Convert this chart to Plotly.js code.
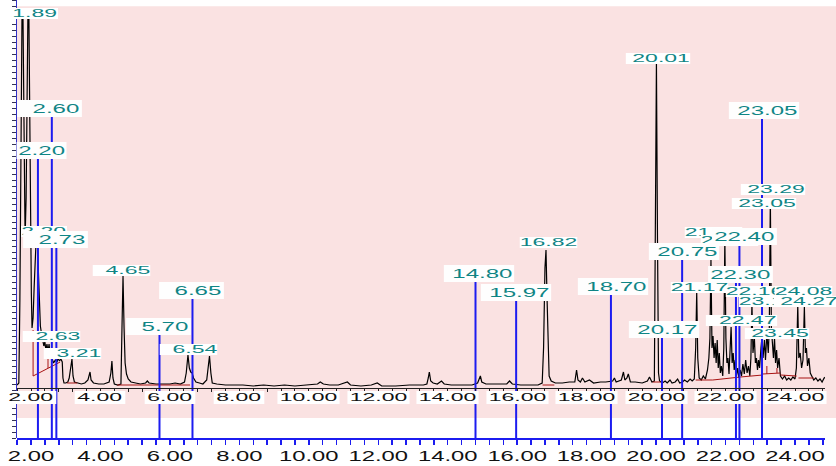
<!DOCTYPE html>
<html><head><meta charset="utf-8">
<script src="https://cdn.plot.ly/plotly-3.0.1.min.js"></script>
<style>
html,body{margin:0;padding:0;background:#fff;}
#chart{width:836px;height:466px;}
.annotation text.annotation-text[style*="font-size: 10px"]{transform-box:fill-box;transform-origin:center;transform:scaleX(2.3);}
.annotation text.annotation-text[style*="font-size: 13px"]{transform-box:fill-box;transform-origin:center;transform:scaleX(1.85);}
.annotation rect.bg[style*="rgb(255, 255, 255)"]{transform-box:fill-box;transform-origin:center;transform:scaleX(2.3);}
.annotation rect.bg[style*="rgb(254, 254, 254)"]{transform-box:fill-box;transform-origin:center;transform:scaleX(1.85);}
g.x2tick{transform-box:fill-box;transform-origin:center;transform:scaleX(1.7);}
</style>
</head><body>
<div id="chart"></div>
<script>
// Chromatogram: retention time (min) and detector signal (arbitrary units)
var timeMin = [1.60,1.65,1.68,1.71,1.74,1.77,1.80,1.83,1.86,1.89,1.91,1.94,1.97,1.99,2.01,2.03,2.06,2.09,2.12,2.15,2.18,2.21,2.24,2.27,2.30,2.33,2.37,2.40,2.43,2.46,2.49,2.52,2.55,2.60,2.65,2.70,2.75,2.78,2.82,2.86,2.90,2.92,2.95,3.00,3.06,3.10,3.13,3.18,3.21,3.25,3.35,3.45,3.55,3.64,3.70,3.73,3.80,3.95,4.10,4.25,4.30,4.33,4.36,4.40,4.50,4.59,4.62,4.65,4.68,4.71,4.75,4.80,4.88,5.00,5.15,5.30,5.35,5.40,5.60,5.80,6.00,6.15,6.30,6.42,6.47,6.52,6.56,6.60,6.64,6.68,6.75,6.85,6.95,7.06,7.10,7.14,7.18,7.22,7.35,7.60,7.80,8.10,8.40,8.70,9.00,9.30,9.60,10.00,10.25,10.33,10.42,10.60,10.85,11.11,11.20,11.50,11.80,11.97,12.10,12.50,12.90,13.30,13.40,13.44,13.47,13.51,13.58,13.70,13.82,13.90,14.10,14.40,14.70,14.86,14.90,14.94,14.98,15.10,15.40,15.70,15.78,15.86,16.10,16.40,16.60,16.72,16.76,16.80,16.83,16.86,16.89,16.92,16.98,17.10,17.30,17.50,17.66,17.71,17.75,17.82,17.88,17.95,18.08,18.20,18.40,18.55,18.75,18.80,18.85,19.00,19.06,19.10,19.16,19.20,19.26,19.40,19.60,19.75,19.81,19.88,19.95,19.98,20.01,20.04,20.07,20.10,20.18,20.26,20.32,20.40,20.46,20.55,20.62,20.68,20.76,20.82,20.90,20.98,21.04,21.10,21.14,21.17,21.20,21.24,21.30,21.36,21.42,21.48,21.52,21.55,21.58,21.61,21.64,21.67,21.70,21.73,21.76,21.79,21.82,21.85,21.88,21.92,21.95,21.98,22.01,22.04,22.07,22.10,22.13,22.16,22.19,22.22,22.25,22.28,22.31,22.35,22.38,22.42,22.46,22.50,22.54,22.58,22.62,22.66,22.70,22.73,22.76,22.79,22.83,22.86,22.89,22.92,22.95,22.98,23.02,23.05,23.08,23.12,23.15,23.19,23.23,23.26,23.29,23.32,23.35,23.38,23.41,23.44,23.47,23.50,23.54,23.58,23.64,23.70,23.76,23.82,23.88,23.94,24.00,24.04,24.08,24.11,24.15,24.19,24.23,24.27,24.30,24.33,24.36,24.40,24.44,24.48,24.54,24.60,24.66,24.72,24.78,24.84,24.88];
var signal = [3,5,88,290,370,370,230,150,190,330,370,370,200,100,95,60,70,100,135,150,148,120,85,62,55,50,42,46,38,44,36,44,34,30,25,28,26,30,27,29,26,10,5,5,6,10,18,29,12,6,5,4,5,8,16,8,5,4,4,6,15,27,10,4,3,4,60,112,60,25,14,9,6,5,4,5,7,5,4,4,4,5,4,6,15,33,20,16,15,10,6,5,4,8,22,32,15,5,4,3,3,3,2,3,2,3,2,3,4,6,4,3,3,6,3,2,3,5,2,2,3,3,4,10,16,7,5,4,7,4,3,3,3,5,9,12,6,4,4,4,7,4,3,3,3,5,40,120,138,90,30,12,7,5,5,6,6,18,8,6,10,6,8,5,6,6,7,10,6,8,16,8,10,14,6,6,5,7,11,6,7,150,326,150,15,7,5,7,5,8,5,6,9,5,6,8,6,9,7,9,40,96,30,10,8,12,9,18,30,50,128,40,52,30,45,25,48,20,35,15,22,12,40,150,50,25,30,14,40,61,25,35,18,28,12,20,10,18,12,24,14,28,15,22,12,30,85,35,51,25,30,18,28,20,40,51,30,48,28,55,35,60,190,60,45,30,50,25,38,20,30,12,9,12,8,10,8,11,9,20,83,30,35,20,28,81,35,40,22,30,15,12,8,10,7,9,6,10,11];

// Integration baselines (start time, start level, end time, end level)
var baseT0 = [2.06,2.06,2.49,3.04,4.48,16.73,19.90,21.14,21.63,22.43,23.07,23.19,23.48,23.58,24.10];
var baseI0 = [58,12,20,5,3,3,6,8,8,11,14,14,15,13,10];
var baseT1 = [2.06,2.84,2.49,3.33,6.58,17.07,20.13,21.63,22.43,23.07,23.58,23.19,23.48,24.05,24.54];
var baseI1 = [12,26,33,5,3,3,6,8,11,13,15,22,20,12,10];

// Marked retention times (blue markers) and the level where each marker starts
var markTimes = [2.20,2.60,2.73,5.70,6.65,14.80,15.97,18.70,20.17,20.75,22.30,22.40,23.05];
var markTops  = [238,280,149,61.5,97.5,115,95.5,102,59,136.5,114,152,278];

// Peak labels: text, placement (time, level), kind (s = peak, b = marker), leading pad
var labelText = ["2.20","21.60","22.00","21.17","22.16","23.12","1.89","4.65","6.54","3.21","2.63","16.82","20.01","23.29","23.05","22.47","23.45","24.08","24.27","2.60","2.20","2.73","5.70","6.65","14.80","15.97","18.70","20.17","20.75","22.30","22.40","23.05"];
var labelTime = [2.375,21.66,22.11,21.25,22.83,23.21,2.115,4.608,6.539,3.182,2.576,16.914,20.055,23.37,23.11,22.46,23.48,24.235,24.305,2.533,2.288,2.692,5.674,6.625,14.896,15.98,18.772,20.228,20.79,22.43,22.533,23.11];
var labelLevel = [157,156,148,100.5,97,87,375,117.5,39,34.5,51.5,145.5,330,198.5,185,68,54.5,97,86.5,279.5,238,149,61.5,97.5,115,95.5,102,59,136.5,114,152,278];
var labelKind = ["s","s","s","s","s","s","s","s","s","s","s","s","s","s","s","s","s","s","s","b","b","b","b","b","b","b","b","b","b","b","b","b"];
var labelPad = [0,0,0,0,0,0,0,2,2,2,2,0,1,1,1,2,1,0,1,2,0,2,2,2,1,1,1,1,1,0,0,1];

// Axis ticks
var tickVals = [2,4,6,8,10,12,14,16,18,20,22,24];
var tickLabels = ["2.00","4.00","6.00","8.00","10.00","12.00","14.00","16.00","18.00","20.00","22.00","24.00"];

var XR = [1.597, 24.864];
var YR = [-50, 388];
var TEAL = '#0f8585';
var BLUE = '#1c1cf0';

var redX = [], redY = [];
for (var i = 0; i < baseT0.length; i++) {
  redX.push(baseT0[i], baseT1[i], null);
  redY.push(baseI0[i], baseI1[i], null);
}
var blueX = [], blueY = [];
for (var j = 0; j < markTimes.length; j++) {
  blueX.push(markTimes[j], markTimes[j], null);
  blueY.push(YR[0], markTops[j], null);
}

var traces = [
  {x: timeMin, y: signal, type: 'scatter', mode: 'lines', xaxis: 'x', yaxis: 'y',
   line: {color: '#000000', width: 1.2}, hoverinfo: 'skip', cliponaxis: false},
  {x: redX, y: redY, type: 'scatter', mode: 'lines', xaxis: 'x', yaxis: 'y',
   line: {color: '#a81414', width: 1}, hoverinfo: 'skip'},
  {x: blueX, y: blueY, type: 'scatter', mode: 'lines', xaxis: 'x2', yaxis: 'y',
   line: {color: BLUE, width: 2}, hoverinfo: 'skip'}
];

var ann = [];
for (var k = 0; k < labelText.length; k++) {
  var big = labelKind[k] === 'b';
  var pad = '';
  for (var p = 0; p < labelPad[k]; p++) pad += '\u00a0';
  ann.push({
    x: labelTime[k], y: labelLevel[k], xref: 'x', yref: 'y',
    text: pad + labelText[k], showarrow: false, xanchor: 'center', yanchor: 'middle',
    font: {family: 'Liberation Sans, Arial, sans-serif', size: big ? 13 : 10, color: TEAL},
    bgcolor: big ? '#fefefe' : '#ffffff', borderpad: big ? 1 : 0, borderwidth: 0
  });
}
for (var m = 0; m < tickVals.length; m++) {
  ann.push({
    x: tickVals[m], y: -9, xref: 'x', yref: 'y', text: tickLabels[m], showarrow: false,
    xanchor: 'center', yanchor: 'middle',
    font: {family: 'Liberation Sans, Arial, sans-serif', size: 10, color: '#111111'},
    bgcolor: '#ffffff', borderpad: 1, borderwidth: 0
  });
}

var layout = {
  width: 836, height: 466,
  margin: {l: 17, r: 11, t: 0, b: 28, pad: 0},
  paper_bgcolor: '#ffffff', plot_bgcolor: '#ffffff',
  showlegend: false,
  xaxis: {range: XR, anchor: 'free', position: 0.1142, side: 'bottom',
    showline: true, linecolor: '#222222', linewidth: 1,
    ticks: 'outside', ticklen: 3, tickcolor: '#222222', tick0: 2, dtick: 0.4,
    showticklabels: false, showgrid: false, zeroline: false, fixedrange: true},
  xaxis2: {range: XR, overlaying: 'x', anchor: 'free', position: 0, side: 'bottom',
    showline: true, linecolor: BLUE, linewidth: 1.5,
    ticks: 'outside', ticklen: 5, tickwidth: 1.5, tickcolor: BLUE,
    tickmode: 'array', tickvals: tickVals, ticktext: tickLabels,
    minor: {tick0: 2, dtick: 0.4, ticks: 'outside', ticklen: 5, tickwidth: 1.5, tickcolor: BLUE},
    tickfont: {family: 'Liberation Sans, Arial, sans-serif', size: 14, color: '#111111'},
    showgrid: false, zeroline: false, fixedrange: true},
  yaxis: {range: YR, showline: true, linecolor: '#3030c8', linewidth: 1,
    ticks: 'outside', ticklen: 4, tickcolor: '#333355', tick0: -50, dtick: 6,
    showticklabels: false, showgrid: false, zeroline: false, fixedrange: true},
  shapes: [
    {type: 'rect', xref: 'paper', yref: 'paper', x0: 0, x1: 1.0136, y0: 0.0457, y1: 0.986,
     fillcolor: '#fae2e2', line: {width: 0}, layer: 'below'}
  ],
  annotations: ann
};

Plotly.newPlot('chart', traces, layout, {displayModeBar: false, staticPlot: true});
</script>
</body></html>
